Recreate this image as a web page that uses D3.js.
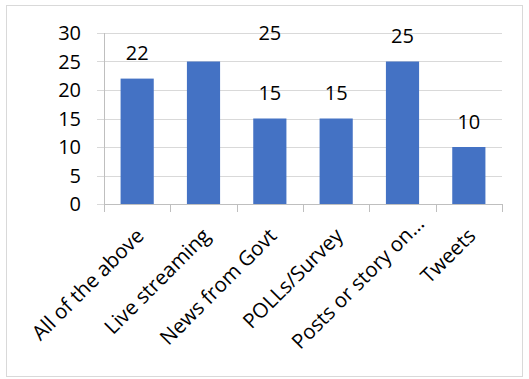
<!DOCTYPE html>
<html><head><meta charset="utf-8">
<script src="https://cdn.jsdelivr.net/npm/d3@7"></script>
<style>body{margin:0;background:#fff}svg{display:block}text{font-family:"Open Sans",sans-serif;fill:#000}</style>
</head><body><svg id="c" width="529" height="379"></svg>
<script>
const categories = ["All of the above","Live streaming","News from Govt","POLLs/Survey","Posts or story on…","Tweets"];
const values = [22,25,15,15,25,10];
const yTicks = [0,5,10,15,20,25,30];

const svg = d3.select("#c");
svg.append("rect").attr("x",6.5).attr("y",5.5).attr("width",516).attr("height",371)
  .attr("fill","#fff").attr("stroke","#d9d9d9");

const pL=104, pR=502, pT=33, pB=204;
const x = d3.scaleBand().domain(categories).range([pL,pR]).paddingInner(0.5).paddingOuter(0.25);
const xb = d3.scaleBand().domain(categories).range([pL,pR]);
const y = d3.scaleLinear().domain([0,30]).range([pB,pT]);

// gridlines
svg.append("g").selectAll("line").data(yTicks).join("line")
  .attr("x1",97).attr("x2",pR).attr("y1",d=>Math.round(y(d))+0.5).attr("y2",d=>Math.round(y(d))+0.5)
  .attr("stroke","#d9d9d9").attr("stroke-width",1);

// y labels
svg.append("g").selectAll("text").data(yTicks).join("text")
  .attr("x",81).attr("y",d=>y(d)).attr("dy","0.36em").attr("text-anchor","end")
  .style("font-size","20px").text(d=>d);

// bars
svg.append("g").selectAll("rect").data(values).join("rect")
  .attr("x",(d,i)=>x(categories[i])).attr("width",x.bandwidth())
  .attr("y",d=>y(d)).attr("height",d=>pB-y(d)).attr("fill","#4472c4");

// axes lines
svg.append("line").attr("x1",pL+0.5).attr("x2",pL+0.5).attr("y1",pT).attr("y2",212).attr("stroke","#bfbfbf");
svg.append("line").attr("x1",pL).attr("x2",pR).attr("y1",pB+0.5).attr("y2",pB+0.5).attr("stroke","#bfbfbf");
const bounds = categories.map(c=>xb(c)).concat([pR]);
svg.append("g").selectAll("line").data(bounds).join("line")
  .attr("x1",d=>Math.round(d)+0.5).attr("x2",d=>Math.round(d)+0.5).attr("y1",pB).attr("y2",212).attr("stroke","#bfbfbf");

// value labels (second label displaced as in the source)
const labelShift = [0,1,0,0,0,0];
svg.append("g").selectAll("text").data(values).join("text")
  .attr("x",(d,i)=>xb(categories[i])+xb.bandwidth()/2 + labelShift[i]*xb.bandwidth())
  .attr("y",(d,i)=>labelShift[i]? y(d)-21.5 : y(d)-18.5)
  .attr("text-anchor","middle").style("font-size","20px").text(d=>d);

// category labels (truncated label sits further along its diagonal, as in the source)
svg.append("g").selectAll("text").data(categories).join("text")
  .attr("transform",c=>{
    const nudge = c.endsWith("…") ? 15 : 0;
    return `translate(${xb(c)+xb.bandwidth()/2+8+nudge},${237-nudge*0.8}) rotate(-45)`;
  })
  .attr("text-anchor","end").style("font-size","20.5px").text(c=>c);
</script></body></html>
